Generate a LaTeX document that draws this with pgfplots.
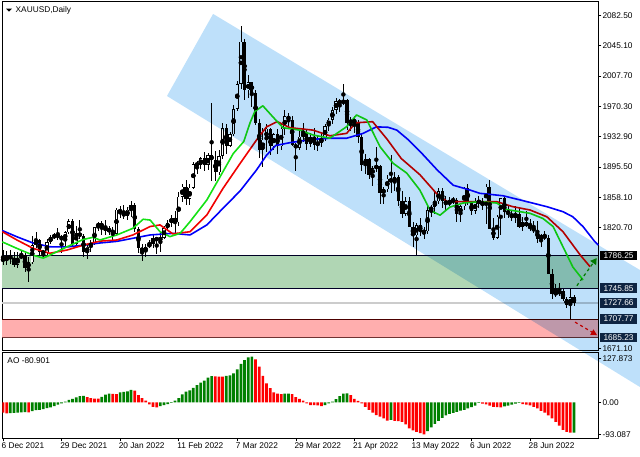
\documentclass[border=0pt]{standalone}
\usepackage{pgfplots}
\pgfplotsset{compat=1.18}
\usepackage{pgfplotstable}
\usetikzlibrary{arrows.meta}
\usepackage{fontspec}
\setmainfont{Liberation Sans}
\definecolor{chan}{RGB}{190,224,250}
\definecolor{zgreen}{RGB}{176,214,180}
\definecolor{zred}{RGB}{255,174,174}
\definecolor{lbox}{RGB}{14,36,66}
\definecolor{maG}{RGB}{20,225,20}
\definecolor{maR}{RGB}{240,0,0}
\definecolor{maB}{RGB}{0,0,250}
\definecolor{aoG}{RGB}{0,128,0}
\definecolor{aoR}{RGB}{255,0,0}
\definecolor{arrG}{RGB}{0,140,0}

\pgfplotstableread{
i o h l c
0 1783 1793 1775 1779
1 1779 1792 1775 1785
2 1785 1793 1776 1783
3 1783 1790 1772 1775
4 1775 1791 1771 1783
5 1783 1792 1782 1787
6 1787 1790 1766 1771
7 1771 1785 1753 1778
8 1778 1810 1776 1799
9 1799 1815 1795 1805
10 1805 1806 1787 1791
11 1791 1793 1782 1789
12 1789 1806 1784 1803
13 1803 1812 1800 1809
14 1809 1814 1806 1811
15 1811 1820 1805 1810
16 1810 1811 1789 1805
17 1805 1817 1795 1815
18 1815 1831 1813 1829
19 1829 1831 1798 1801
20 1801 1823 1799 1814
21 1814 1830 1807 1810
22 1810 1813 1785 1790
23 1790 1801 1782 1797
24 1797 1805 1791 1802
25 1802 1822 1799 1821
26 1821 1828 1816 1826
27 1826 1829 1812 1821
28 1821 1830 1812 1817
29 1817 1823 1812 1818
30 1818 1821 1805 1813
31 1813 1845 1811 1843
32 1843 1847 1832 1839
33 1839 1848 1831 1835
34 1835 1846 1830 1843
35 1843 1853 1834 1848
36 1848 1851 1815 1819
37 1819 1822 1789 1796
38 1796 1800 1780 1791
39 1791 1800 1785 1797
40 1797 1805 1796 1801
41 1801 1812 1796 1808
42 1808 1809 1788 1805
43 1805 1815 1791 1808
44 1808 1823 1806 1820
45 1820 1830 1817 1826
46 1826 1836 1822 1833
47 1833 1841 1814 1827
48 1827 1865 1823 1859
49 1859 1875 1852 1871
50 1871 1879 1849 1856
51 1856 1874 1849 1870
52 1870 1902 1868 1899
53 1899 1903 1887 1898
54 1898 1908 1893 1906
55 1906 1914 1890 1898
56 1898 1913 1892 1910
57 1910 1974 1878 1904
58 1904 1915 1878 1889
59 1889 1917 1885 1909
60 1909 1950 1905 1943
61 1943 1949 1912 1922
62 1922 1939 1920 1936
63 1936 1972 1934 1967
64 1967 2002 1965 1998
65 1998 2070 1992 2050
66 2050 2053 1978 1990
67 1990 2009 1981 2000
68 2000 2001 1970 1987
69 1987 1990 1947 1950
70 1950 1955 1906 1917
71 1917 1944 1895 1929
72 1929 1948 1914 1943
73 1943 1943 1910 1921
74 1921 1938 1917 1936
75 1936 1943 1911 1921
76 1921 1948 1917 1943
77 1943 1966 1935 1958
78 1958 1962 1944 1954
79 1954 1958 1921 1923
80 1923 1925 1890 1919
81 1919 1940 1916 1933
82 1933 1950 1926 1937
83 1937 1941 1917 1924
84 1924 1938 1920 1932
85 1932 1944 1917 1923
86 1923 1934 1915 1925
87 1925 1937 1920 1931
88 1931 1948 1928 1946
89 1946 1956 1940 1954
90 1954 1970 1948 1966
91 1966 1981 1961 1977
92 1977 1980 1963 1974
93 1974 1998 1972 1978
94 1978 1980 1941 1950
95 1950 1957 1940 1953
96 1953 1958 1937 1951
97 1951 1953 1925 1932
98 1932 1936 1891 1898
99 1898 1911 1887 1905
100 1905 1907 1881 1886
101 1886 1897 1872 1894
102 1894 1920 1889 1897
103 1897 1898 1850 1863
104 1863 1871 1850 1868
105 1868 1886 1865 1881
106 1881 1910 1864 1877
107 1877 1889 1866 1883
108 1883 1886 1847 1854
109 1854 1866 1832 1838
110 1838 1859 1835 1853
111 1853 1858 1821 1822
112 1822 1828 1797 1811
113 1811 1826 1787 1824
114 1824 1833 1810 1815
115 1815 1822 1807 1816
116 1816 1849 1813 1842
117 1842 1849 1834 1846
118 1846 1865 1838 1853
119 1853 1870 1850 1866
120 1866 1869 1845 1853
121 1853 1860 1842 1850
122 1850 1858 1847 1853
123 1853 1859 1850 1855
124 1855 1857 1828 1837
125 1837 1849 1828 1847
126 1847 1871 1842 1869
127 1869 1874 1848 1851
128 1851 1853 1836 1841
129 1841 1857 1837 1852
130 1852 1860 1845 1853
131 1853 1857 1843 1848
132 1848 1875 1825 1871
133 1871 1879 1820 1819
134 1819 1832 1805 1808
135 1808 1836 1807 1834
136 1834 1857 1811 1857
137 1857 1859 1832 1840
138 1840 1847 1832 1838
139 1838 1843 1829 1832
140 1832 1847 1826 1838
141 1838 1845 1820 1822
142 1822 1834 1816 1827
143 1827 1841 1822 1823
144 1823 1831 1817 1820
145 1820 1829 1814 1817
146 1817 1829 1802 1807
147 1807 1813 1797 1811
148 1811 1816 1805 1808
149 1808 1811 1763 1764
150 1764 1770 1732 1739
151 1739 1751 1735 1740
152 1740 1752 1736 1742
153 1742 1745 1730 1733
154 1733 1735 1722 1725
155 1725 1745 1707.77 1735
156 1735 1738 1724 1727.66
}\candles

\begin{document}
\begin{tikzpicture}
\tikzset{lbl/.style={font=\fontsize{8.3bp}{9.5bp}\selectfont}}
% ---------------- AO panel ----------------
\begin{axis}[
  name=ao, at={(2.3bp,-352.3bp)}, anchor=north west,
  scale only axis, width=596bp, height=86bp,
  xmin=-0.19, xmax=162.65, ymin=-104.8, ymax=145.5,
  axis line style={black, line width=0.8bp},
  xtick={0,16,32,48,64,80,96,112,128,144},
  xticklabels={6 Dec 2021,29 Dec 2021,20 Jan 2022,11 Feb 2022,7 Mar 2022,29 Mar 2022,21 Apr 2022,13 May 2022,6 Jun 2022,28 Jun 2022},
  xtick pos=bottom,
  xticklabel style={lbl, anchor=north west, xshift=-2.5bp, inner sep=1bp},
  ytick={127.873,0,-93.087}, yticklabels={127.873,0.00,-93.087},
  ytick pos=right, yticklabel pos=right,
  yticklabel style={lbl, anchor=west, inner sep=1bp},
  tick align=outside, major tick length=3bp,
  tick style={black, line width=0.6bp},
]
\addplot[ybar, bar width=2.7bp, bar shift=0pt, fill=aoR, draw=none] coordinates {
(0,-30) (1,-32) (7,-29) (23,15) (24,12) (25,11) (26,10.5) (30,24.5) (31,24)
(36,34) (37,21) (38,12) (39,5) (40,-6) (41,-13) (42,-15) (58,75.5) (59,75) (60,74.5)
(69,125) (70,104) (71,77) (72,55) (73,41) (74,29) (75,25) (76,24) (79,24) (80,15)
(81,10) (82,5) (83,-3) (84,-8) (85,-8.5) (86,-9) (87,-11) (95,21) (96,10) (97,4)
(98,-3) (99,-13) (100,-22) (101,-30) (102,-37) (103,-42) (104,-47) (105,-53)
(107,-54) (108,-55) (109,-57) (110,-64) (111,-76) (112,-82) (113,-86) (114,-90)
(115,-93.087) (131,-4) (132,-6) (133,-10) (134,-13) (135,-14) (136,-14.5)
(142,-5) (143,-7) (144,-9) (145,-13) (146,-18) (147,-25) (148,-30) (149,-38)
(150,-47) (151,-57) (152,-68) (153,-80) (154,-86) (155,-88.5)};
\addplot[ybar, bar width=2.7bp, bar shift=0pt, fill=aoG, draw=none] coordinates {
(2,-31.5) (3,-31) (4,-30) (5,-29) (6,-28.5) (8,-26) (9,-23) (10,-22) (11,-20)
(12,-17) (13,-15) (14,-11) (15,-7) (16,-3) (17,2) (18,7) (19,10) (20,14) (21,18)
(22,19) (27,16) (28,22) (29,25) (32,29) (33,30) (34,32) (35,36) (43,-11) (44,-8)
(45,-5) (46,-2) (47,5) (48,12) (49,23) (50,31) (51,35) (52,42) (53,50) (54,57)
(55,63) (56,72) (57,76) (61,77) (62,78) (63,84) (64,96) (65,112) (66,123) (67,131)
(68,133) (77,25) (78,25.5) (88,-8) (89,-3) (90,2) (91,9) (92,18) (93,25) (94,26)
(106,-51) (116,-84) (117,-73) (118,-63) (119,-54) (120,-45) (121,-38) (122,-34)
(123,-31) (124,-28) (125,-24) (126,-22) (127,-18) (128,-14) (129,-10) (130,-2)
(137,-12) (138,-10) (139,-7) (140,-4) (141,-2) (156,-88)};
\node[lbl, anchor=north west, inner sep=0pt] at (rel axis cs:0,1) [xshift=5bp, yshift=-5bp] {AO -80.901};
\end{axis}

% ---------------- main price panel ----------------
\begin{axis}[
  name=main, at={(2.3bp,-1.7bp)}, anchor=north west,
  scale only axis, width=596bp, height=348.3bp,
  xmin=-0.19, xmax=162.65, ymin=1669.6, ymax=2099.5,
  clip=false,
  axis line style={black, line width=0.8bp},
  xtick=\empty,
  ytick={2082.5,2045.1,2007.7,1970.3,1932.9,1895.5,1858.1,1820.7,1671.1},
  yticklabels={2082.50,2045.10,2007.70,1970.30,1932.90,1895.50,1858.10,1820.70,1671.10},
  ytick pos=right, yticklabel pos=right,
  yticklabel style={lbl, anchor=west, inner sep=1bp},
  tick align=outside, major tick length=3bp,
  tick style={black, line width=0.6bp},
]
% zones
\addplot[fill=zgreen, draw=none] coordinates {(-0.19,1786.25) (162.65,1786.25) (162.65,1745.85) (-0.19,1745.85)} -- cycle;
\addplot[fill=zred, draw=none] coordinates {(-0.19,1707.77) (162.65,1707.77) (162.65,1685.23) (-0.19,1685.23)} -- cycle;
\addplot[color=black!85!blue, line width=0.8bp] coordinates {(-0.19,1786.25) (162.65,1786.25)};
\addplot[color=black!85!blue, line width=0.8bp] coordinates {(-0.19,1745.85) (162.65,1745.85)};
\addplot[color=black!70!red, line width=0.8bp] coordinates {(-0.19,1707.77) (162.65,1707.77)};
\addplot[color=black!60!red!60!gray, line width=0.8bp] coordinates {(-0.19,1685.23) (162.65,1685.23)};
\addplot[color=black!20, line width=1.5bp] coordinates {(-0.19,1727.66) (162.65,1727.66)};
% candles: wicks
\addplot[only marks, mark=none, error bars/.cd, y dir=both, y explicit, error mark=none,
  error bar style={draw=black, solid, line width=0.8bp}]
  table[x=i, y expr={(\thisrow{h}+\thisrow{l})/2}, y error expr={(\thisrow{h}-\thisrow{l})/2}] {\candles};
% bodies (outline / bear fill)
\addplot[only marks, mark=none, error bars/.cd, y dir=both, y explicit, error mark=none,
  error bar style={draw=black, solid, line width=3.2bp, line cap=butt}]
  table[x=i, y expr={(\thisrow{o}+\thisrow{c})/2}, y error expr={max(abs(\thisrow{o}-\thisrow{c})/2,0.5)}] {\candles};
% bull bodies white inside
\addplot[only marks, mark=none, error bars/.cd, y dir=both, y explicit, error mark=none,
  error bar style={draw=white, solid, line width=1.8bp, line cap=butt}]
  table[x=i, y expr={(\thisrow{o}+\thisrow{c})/2}, y error expr={max((\thisrow{c}-\thisrow{o})/2-0.8,0)}] {\candles};
% Alligator lines
\addplot[maB, line width=1.6bp, line join=round] coordinates {
(-0.19,1817) (4,1809) (8.2,1801.7) (12.8,1797) (17.5,1796.8) (21.9,1799) (26.5,1801.7)
(31.1,1803.7) (35.5,1807.5) (40.2,1811.6) (46.4,1813.6) (51.1,1811.6) (55.7,1824)
(60.1,1844.5) (64.8,1866) (69.3,1892) (72,1910) (74.5,1922) (78.4,1925.5) (84.7,1929.7)
(89.3,1930.9) (93.9,1931) (98.4,1937) (102,1945) (105.2,1944.5) (107.6,1941) (110.5,1930)
(114.5,1912) (118.6,1892) (123,1873) (127.6,1867) (130.3,1863) (136.6,1860) (141.3,1854.8)
(148.6,1846.5) (153,1840.3) (155.7,1834) (158.5,1821.8) (161.7,1803.3) (162.65,1799)};
\addplot[maR, line width=1.6bp, line join=round] coordinates {
(-0.19,1815.6) (3.8,1805.4) (8.2,1795.1) (12.8,1789) (17.5,1793) (21.9,1799) (26.5,1804)
(31.1,1805.4) (35.5,1811.6) (40.2,1822) (42.9,1824) (46.4,1813) (51.1,1815.6) (55.7,1836.3)
(60.1,1869) (64.8,1900) (69.3,1929) (72,1945) (74.9,1951.5) (78.4,1944) (84.7,1941)
(89.3,1934) (93.9,1937) (96.3,1950) (101,1951.4) (104.9,1930) (108.8,1906) (113.9,1886)
(118.6,1862) (121.3,1853) (125.7,1852.7) (130.3,1852.7) (134.9,1852.7) (139.3,1846.5)
(144,1842.4) (148.6,1834) (153,1815.6) (157.7,1786.9) (160.4,1772.4)};
\addplot[maG, line width=1.6bp, line join=round] coordinates {
(-0.19,1803) (3.8,1795) (8.2,1786.7) (11,1783) (12.8,1786.7) (17.5,1797) (21.9,1806)
(24.6,1808.7) (26.5,1805.4) (31.1,1811.6) (35.5,1819.8) (38.3,1831) (40.2,1830)
(42.9,1815.6) (45.6,1809.5) (48.4,1813.6) (51.1,1828) (55.7,1854.8) (60.1,1889.7)
(62.9,1912) (65.8,1927) (67.5,1950) (68.8,1964) (71,1971) (73.8,1957) (76.5,1944)
(81.1,1941) (84.7,1935) (89.3,1931) (93.9,1945.3) (96.6,1959.7) (99.4,1953.5) (103,1920.6)
(106.6,1900) (110.3,1888) (113.9,1867) (116.7,1842) (119.4,1836) (122.1,1846) (125.7,1851)
(130.3,1852.7) (134.9,1851) (137.6,1843) (141.3,1840.3) (144,1838.3) (147.5,1832)
(150.3,1822) (153,1797) (155.7,1772) (158.5,1756)};
% forecast arrows
\addplot[arrG, dashed, line width=1.2bp, -{Triangle[length=6bp,width=7bp]}] coordinates {(156.8,1749) (162.2,1783)};
\addplot[aoR, dashed, line width=1.2bp, -{Triangle[length=6bp,width=6bp]}] coordinates {(156.3,1704) (162.3,1688)};
% channel
\addplot[fill=chan, draw=none, blend mode=multiply] coordinates {(44.8,1983.1) (57.4,2084.4) (174.0,1768.4) (174.0,1624.0)} -- cycle;
% price labels
\node[lbl, fill=black, text=white, anchor=west, inner sep=0pt, minimum width=37bp, minimum height=9.5bp] at (axis cs:162.65,1786.25) [xshift=1.5bp] {1786.25};
\node[lbl, fill=lbox, text=white, anchor=west, inner sep=0pt, minimum width=37bp, minimum height=9.5bp] at (axis cs:162.65,1745.85) [xshift=1.5bp] {1745.85};
\node[lbl, fill=lbox, text=white, anchor=west, inner sep=0pt, minimum width=37bp, minimum height=9.5bp] at (axis cs:162.65,1727.66) [xshift=1.5bp] {1727.66};
\node[lbl, fill=lbox, text=white, anchor=west, inner sep=0pt, minimum width=37bp, minimum height=9.5bp] at (axis cs:162.65,1707.77) [xshift=1.5bp] {1707.77};
\node[lbl, fill=lbox, text=white, anchor=west, inner sep=0pt, minimum width=37bp, minimum height=9.5bp] at (axis cs:162.65,1685.23) [xshift=1.5bp] {1685.23};
\end{axis}
% header
\fill[black] (6bp,-8.5bp) -- (12bp,-8.5bp) -- (9bp,-11.5bp) -- cycle;
\node[lbl, anchor=west, inner sep=0pt] at (15.5bp,-10bp) {XAUUSD,Daily};
\pgfresetboundingbox
\useasboundingbox (0,0) rectangle (640bp,-457bp);
\end{tikzpicture}
\end{document}
